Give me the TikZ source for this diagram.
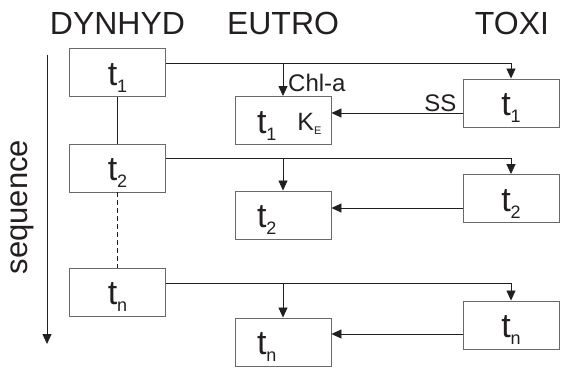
\documentclass[tikz,border=0pt]{standalone}
\usepackage{fontspec}
\setmainfont{Liberation Sans}
\usepackage{xcolor}
\definecolor{InkGray} {RGB}{35, 31, 32}
\definecolor{BoxGray} {RGB}{105,105,105}
\usetikzlibrary{
  arrows.meta,
  positioning
}
\newcommand{\tsub}[1]{\raisebox{-7pt}{\fontsize{18}{18}\selectfont #1}}
\newcommand{\kconst}{\raisebox{3pt}{\fontsize{25}{25}\selectfont K\raisebox{-4pt}{\fontsize{11}{11}\selectfont E}}}

\begin{document}
\begin{tikzpicture}[
  x=1pt, y=-1pt,
  font=\fontsize{34}{36}\selectfont,
  text=InkGray,
  stepbox/.style={
    draw=BoxGray, line width=0.9pt,
    minimum width=96pt,
    minimum height=48pt,
    inner ysep=2pt,
    text height=32pt, text depth=7pt
  },
  eubox/.style={
    stepbox,
    text width=52pt, inner xsep=22pt,
    align=left
  },
  header/.style={
    font=\fontsize{32}{36}\selectfont,
    anchor=base},
  tag/.style={
    font=\fontsize{24}{26}\selectfont,
    inner sep=0pt},
  arrow/.style={
    -{Triangle[length=10pt, width=9pt]},
    line width=0.8pt, draw=InkGray},
  link/.style={
    line width=0.8pt, draw=InkGray}
]
\useasboundingbox (0,0) rectangle (563,370);

% column titles
\node[header] (hdyn) at (117.5,34) {DYNHYD};
\node[header] (heut) at (283,34) {EUTRO};
\node[header] (htox) at (512,34) {TOXI};

% time axis
\coordinate (seqtop) at (47,55);
\coordinate (seqbot) at (47,344);
\draw[arrow] (seqtop) -- (seqbot);
\node[rotate=90, font=\fontsize{31}{34}\selectfont]
  (seq) at (22,207) {sequence};

% DYNHYD steps
\node[stepbox] (D1) at (117.5,72.5) {t\tsub{1}};
\node[stepbox] (D2) at (117.5,168) {t\tsub{2}};
\node[stepbox] (Dn) at (117.5,292) {t\tsub{n}};

% EUTRO steps
\node[eubox] (E1) at (283,120.5)
  {t\tsub{1}\hspace{21pt}\rlap{\kconst}};
\node[eubox] (E2) at (283,215) {t\tsub{2}};
\node[eubox] (En) at (283,342) {t\tsub{n}};

% TOXI steps
\node[stepbox] (T1) at (511,103) {t\tsub{1}};
\node[stepbox] (T2) at (511,198.5) {t\tsub{2}};
\node[stepbox] (Tn) at (511,325) {t\tsub{n}};

\draw[link] (D1.south) -- (D2.north);
\draw[link, dash pattern=on 5pt off 3pt] (D2.south) -- (Dn.north);

% hydrodynamics to both models
\coordinate (h1) at ([yshift=9.5pt]D1.east);
\coordinate (h2) at ([yshift=9.5pt]D2.east);
\coordinate (hn) at ([yshift=9pt]Dn.east);
\draw[arrow] (h1) -| (T1.north);
\draw[arrow] (h1 -| E1.north) -- (E1.north);
\draw[arrow] (h2) -| (T2.north);
\draw[arrow] (h2 -| E2.north) -- (E2.north);
\draw[arrow] (hn) -| (Tn.north);
\draw[arrow] (hn -| En.north) -- (En.north);

% solids from TOXI to EUTRO
\coordinate (s1) at ([yshift=-10pt]T1.west);
\coordinate (s2) at ([yshift=-9.5pt]T2.west);
\coordinate (sn) at ([yshift=-9pt]Tn.west);
\draw[arrow] (s1) -- (s1 -| E1.east);
\draw[arrow] (s2) -- (s2 -| E2.east);
\draw[arrow] (sn) -- (sn -| En.east);

\node[tag, anchor=base west] (chl)
  at ([xshift=5pt, yshift=4.5pt]E1.north) {Chl-a};
\node[tag, anchor=base east] (ss)
  at ([xshift=-6pt, yshift=1.5pt]s1) {SS};

\end{tikzpicture}
\end{document}
